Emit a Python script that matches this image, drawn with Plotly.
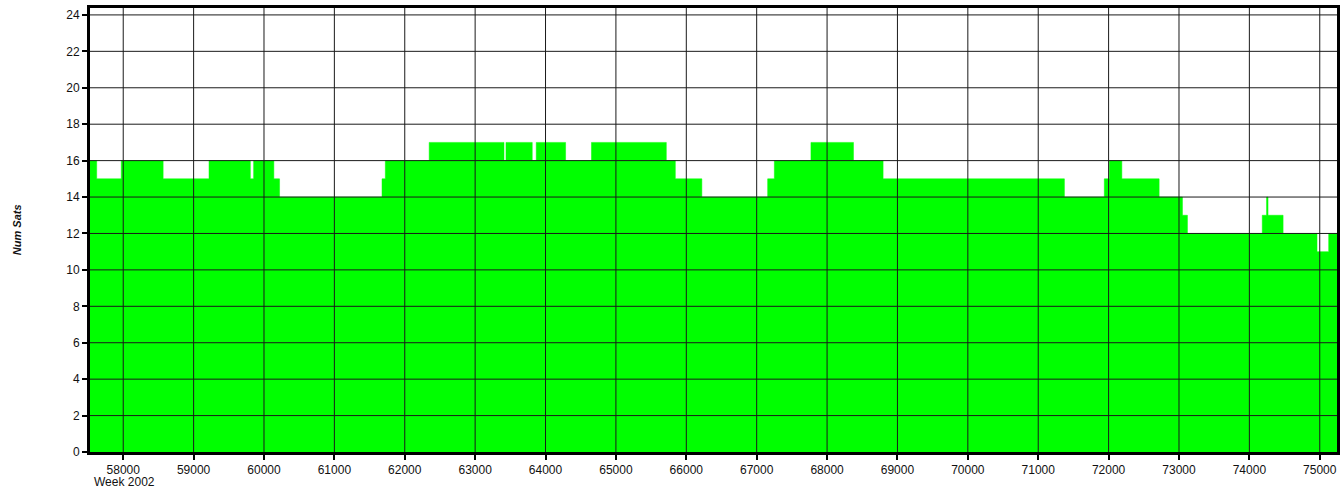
import plotly.graph_objects as go

# Step data: week number where the count changes, and number of satellites from that point
week = [57528, 57623, 57972, 58567, 59219, 59806, 59853, 60140, 60221, 61677,
        61724, 62347, 63410, 63438, 63811, 63868, 64285, 64653, 65716, 65844,
        66221, 67156, 67251, 67771, 68375, 68796, 71372, 71939, 72010, 72188,
        72718, 73049, 73120, 74183, 74244, 74265, 74479, 74961, 75127, 75245]
num_sats = [16, 15, 16, 15, 16, 15, 16, 15, 14, 15,
            16, 17, 16, 17, 16, 17, 16, 17, 16, 15,
            14, 15, 16, 17, 16, 15, 14, 15, 16, 15,
            14, 13, 12, 13, 14, 13, 12, 11, 12, 12]

x_ticks = [58000, 59000, 60000, 61000, 62000, 63000, 64000, 65000, 66000,
           67000, 68000, 69000, 70000, 71000, 72000, 73000, 74000, 75000]
x_tick_labels = [str(v) for v in x_ticks]
y_ticks = list(range(0, 25, 2))
y_tick_labels = [str(v) for v in y_ticks]

X_RANGE = [57528, 75245]
Y_RANGE = [0, 24.38]

fig = go.Figure()
fig.add_trace(go.Scatter(
    x=week, y=num_sats, mode="lines", line_shape="hv",
    fill="tozeroy", fillcolor="#00ff00",
    line=dict(color="#00ff00", width=0.5),
    hoverinfo="x+y", showlegend=False,
))

grid_color = "#1a1a1a"
shapes = []
for xv in x_ticks:
    shapes.append(dict(type="line", xref="x", yref="paper", x0=xv, x1=xv, y0=0, y1=1,
                       line=dict(color=grid_color, width=1), layer="above"))
for yv in y_ticks[1:]:
    shapes.append(dict(type="line", xref="paper", yref="y", x0=0, x1=1, y0=yv, y1=yv,
                       line=dict(color=grid_color, width=1), layer="above"))

tick_font = dict(family="Liberation Sans, Arial, sans-serif", size=12, color="#111111")

fig.update_layout(
    width=1342, height=489,
    margin=dict(l=90, r=2, t=8, b=37),
    plot_bgcolor="white", paper_bgcolor="white",
    shapes=shapes,
    xaxis=dict(range=X_RANGE, tickvals=x_ticks, ticktext=x_tick_labels,
               showgrid=False, zeroline=False, showline=True, linecolor="black",
               linewidth=3, mirror=True, ticks="outside", ticklen=5, tickwidth=1.5,
               tickcolor="black", tickfont=tick_font),
    yaxis=dict(range=Y_RANGE, tickvals=y_ticks, ticktext=y_tick_labels,
               showgrid=False, zeroline=False, showline=True, linecolor="black",
               linewidth=3, mirror=True, ticks="outside", ticklen=5, tickwidth=1.5,
               tickcolor="black", tickfont=tick_font),
    annotations=[
        dict(text="Week 2002", xref="paper", yref="paper", x=0.0015, y=0,
             xanchor="left", yanchor="middle", yshift=-30, showarrow=False,
             font=tick_font),
        dict(text="<b><i>Num Sats</i></b>", xref="paper", yref="paper",
             x=-0.0584, y=0.5, xanchor="center", yanchor="middle", textangle=-90,
             showarrow=False,
             font=dict(family="Liberation Sans, Arial, sans-serif", size=11, color="#111111")),
    ],
)

fig.write_html(
    "out.html",
    config={"displayModeBar": False},
    post_script="document.body.style.margin='0';document.body.style.padding='0';"
                "document.body.style.overflow='hidden';",
)
